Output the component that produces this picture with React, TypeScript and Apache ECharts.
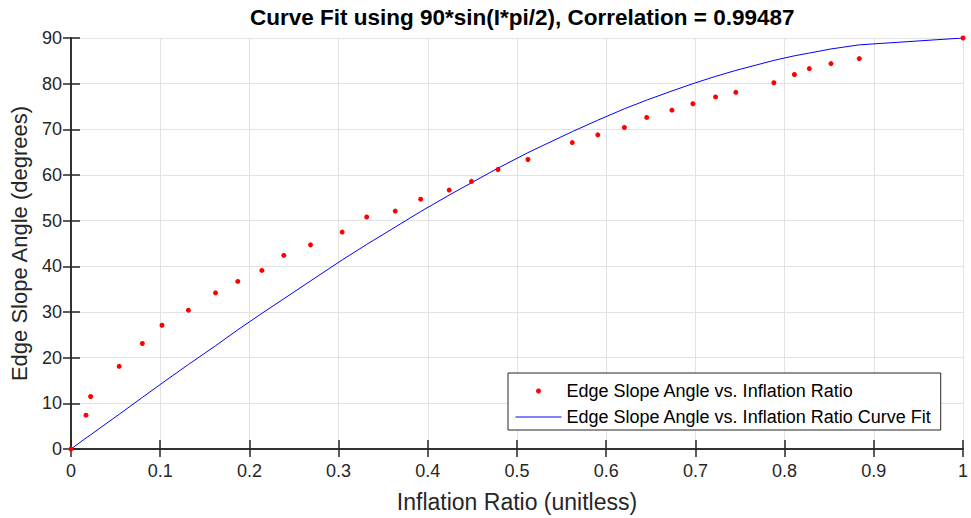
import React, { useEffect, useRef } from "react";
import * as echarts from "echarts";

const titleText = "Curve Fit using 90*sin(I*pi/2), Correlation = 0.99487";
const xName = "Inflation Ratio (unitless)";
const yName = "Edge Slope Angle (degrees)";
const scatterName = "Edge Slope Angle vs. Inflation Ratio";
const fitName = "Edge Slope Angle vs. Inflation Ratio Curve Fit";

// Inflation ratio (x) of each measured point
const ratio = [
  0, 0.0168, 0.022, 0.054, 0.08, 0.102, 0.1316, 0.162, 0.187, 0.214, 0.2386,
  0.2685, 0.304, 0.3315, 0.3635, 0.392, 0.424, 0.449, 0.4787, 0.5123, 0.562,
  0.5906, 0.6204, 0.6454, 0.6737, 0.6972, 0.7226, 0.7453, 0.788, 0.811, 0.8277,
  0.852, 0.8837, 1,
];
// Measured edge slope angle (degrees)
const angle = [
  0, 7.4, 11.5, 18.1, 23.1, 27.1, 30.4, 34.2, 36.7, 39.1, 42.4, 44.7, 47.5,
  50.8, 52.1, 54.7, 56.7, 58.6, 61.2, 63.4, 67.1, 68.8, 70.4, 72.6, 74.2, 75.6,
  77.1, 78.1, 80.2, 82.0, 83.3, 84.4, 85.5, 90,
];
// Curve fit angle read at the same ratios (degrees)
const fitAngle = [
  0, 2.4, 3.1, 7.6, 11.3, 14.4, 18.5, 22.6, 26.1, 29.7, 32.9, 36.8, 41.4, 44.8,
  48.6, 52.0, 55.6, 58.3, 61.5, 64.9, 69.5, 72.0, 74.5, 76.4, 78.4, 80.0, 81.6,
  82.9, 85.1, 86.1, 86.7, 87.6, 88.5, 90,
];

const xTickLabels = ["0", "0.1", "0.2", "0.3", "0.4", "0.5", "0.6", "0.7", "0.8", "0.9", "1"];
const yTickLabels = ["0", "10", "20", "30", "40", "50", "60", "70", "80", "90"];

const FONT = "'Liberation Sans', Arial, Helvetica, sans-serif";
const AXIS_COLOR = "#262626";
const GRID_COLOR = "#e2e2e2";

export default function App() {
  const ref = useRef<HTMLDivElement>(null);

  useEffect(() => {
    if (!ref.current) return;
    const chart = echarts.init(ref.current, undefined, { renderer: "svg" });

    const axisLine = { show: true, lineStyle: { color: AXIS_COLOR, width: 1.5 } };
    const axisTick = (len: number) => ({
      show: true,
      inside: true,
      length: len,
      lineStyle: { color: AXIS_COLOR, width: 1.5 },
    });

    chart.setOption({
      animation: false,
      backgroundColor: "#ffffff",
      textStyle: { fontFamily: FONT },
      title: {
        text: titleText,
        left: 250,
        top: 6,
        padding: 0,
        textStyle: { fontFamily: FONT, fontSize: 22.5, fontWeight: "bold", color: "#000000" },
      },
      grid: { left: 71, right: 6, top: 38, bottom: 67, containLabel: false },
      legend: {
        show: true,
        orient: "vertical",
        left: 508,
        top: 373,
        padding: [9, 9, 4, 7],
        itemGap: 8,
        itemWidth: 46,
        itemHeight: 5,
        selectedMode: false,
        backgroundColor: "#ffffff",
        borderColor: AXIS_COLOR,
        borderWidth: 1,
        borderRadius: 0,
        textStyle: { fontFamily: FONT, fontSize: 18, color: "#000000" },
        data: [
          { name: scatterName, icon: "circle", itemStyle: { color: "#ff0000", opacity: 1 } },
          {
            name: fitName,
            icon: "inherit",
            itemStyle: { opacity: 0, borderWidth: 0 },
            lineStyle: { color: "#0000ff", width: 1, opacity: 1 },
          },
        ],
      },
      xAxis: [
        {
          type: "value",
          position: "bottom",
          min: 0,
          max: 1,
          interval: 0.1,
          axisLine,
          axisTick: axisTick(9),
          axisLabel: {
            fontFamily: FONT,
            fontSize: 18,
            color: AXIS_COLOR,
            margin: 13,
            formatter: (v: number) => xTickLabels[Math.round(v * 10)] ?? "",
          },
          splitLine: { show: true, lineStyle: { color: GRID_COLOR, width: 1 } },
          name: xName,
          nameLocation: "middle",
          nameGap: 41,
          nameTextStyle: { fontFamily: FONT, fontSize: 23, color: AXIS_COLOR },
        },
        {
          type: "value",
          position: "top",
          min: 0,
          max: 1,
          interval: 0.1,
          axisLine,
          axisTick: axisTick(8),
          axisLabel: { show: false },
          splitLine: { show: false },
        },
      ],
      yAxis: [
        {
          type: "value",
          position: "left",
          min: 0,
          max: 90,
          interval: 10,
          axisLine,
          axisTick: axisTick(9),
          axisLabel: {
            fontFamily: FONT,
            fontSize: 18,
            color: AXIS_COLOR,
            margin: 9,
            formatter: (v: number) => yTickLabels[Math.round(v / 10)] ?? "",
          },
          splitLine: { show: true, lineStyle: { color: GRID_COLOR, width: 1 } },
          name: yName,
          nameLocation: "middle",
          nameGap: 41,
          nameTextStyle: { fontFamily: FONT, fontSize: 22, color: AXIS_COLOR },
        },
        {
          type: "value",
          position: "right",
          min: 0,
          max: 90,
          interval: 10,
          axisLine,
          axisTick: axisTick(8),
          axisLabel: { show: false },
          splitLine: { show: false },
        },
      ],
      series: [
        {
          name: fitName,
          type: "line",
          data: ratio.map((x, i) => [x, fitAngle[i]]),
          showSymbol: false,
          symbol: "none",
          lineStyle: { color: "#0000ff", width: 1 },
          itemStyle: { color: "#0000ff" },
          z: 2,
        },
        {
          name: scatterName,
          type: "scatter",
          data: ratio.map((x, i) => [x, angle[i]]),
          symbol: "circle",
          symbolSize: 5,
          itemStyle: { color: "#ff0000", opacity: 1 },
          z: 3,
        },
      ],
    });

    return () => chart.dispose();
  }, []);

  return (
    <div
      ref={ref}
      style={{ position: "fixed", left: 0, top: 0, width: 971, height: 518, background: "#fff" }}
    />
  );
}
